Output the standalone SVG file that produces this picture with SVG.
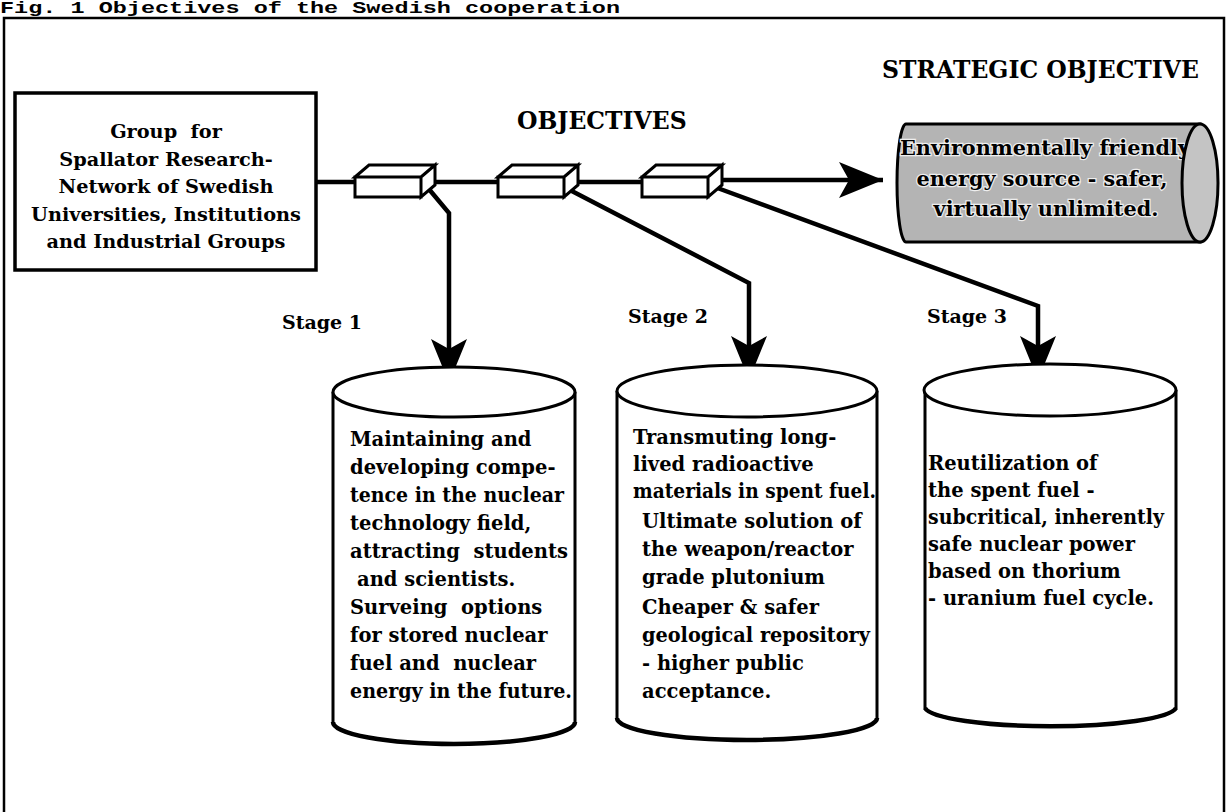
<svg xmlns="http://www.w3.org/2000/svg" width="1228" height="812" viewBox="0 0 1228 812">
<style>
  .t { font-family: "DejaVu Serif", "Liberation Serif", serif; font-weight: bold; fill: #000; }
  .box { font-size: 19.3px; text-anchor: middle; }
  .body { font-size: 19.5px; }
  .stage { font-size: 19px; }
  .head { font-size: 23.5px; }
  .cyl { fill: #fff; stroke: #000; stroke-width: 3; }
  .cylb { fill: none; stroke: #000; stroke-width: 4.5; }
  .conn { fill: none; stroke: #000; stroke-width: 4.5; stroke-linejoin: miter; }
  .obj { fill: #fff; stroke: #000; stroke-width: 3; stroke-linejoin: miter; }
  .halo { paint-order: stroke; stroke: #eee; stroke-width: 2.5px; font-size: 20.8px; text-anchor: middle; }
</style>
<defs>
  <marker id="ah" viewBox="0 0 44 36" refX="44" refY="18" markerWidth="44" markerHeight="36" markerUnits="userSpaceOnUse" orient="auto">
    <path d="M0,0 L44,18 L0,36 L10,18 Z" fill="#000"/>
  </marker>
</defs>
<rect width="1228" height="812" fill="#fff"/>

<g id="title">
  <text x="0" y="13" font-family="Liberation Mono, monospace" font-weight="bold" font-size="17" textLength="620" lengthAdjust="spacingAndGlyphs">Fig. 1 Objectives of the Swedish cooperation</text>
</g>

<g id="frame" fill="none" stroke="#000" stroke-width="2.5">
  <path d="M4,820 V18 H1224 V820"/>
</g>

<g id="connectors">
  <path class="conn" d="M316,182 H712"/>
  <path class="conn" d="M712,180 H883" stroke-width="6.5" marker-end="url(#ah)"/>
  <path class="conn" d="M428,188 L449,213 V383" marker-end="url(#ah)"/>
  <path class="conn" d="M566,188 L749,283 V380" marker-end="url(#ah)"/>
  <path class="conn" d="M712,186 L1038,306 V380" marker-end="url(#ah)"/>
</g>

<g id="source">
  <rect x="15" y="93" width="301" height="177" fill="#fff" stroke="#000" stroke-width="3.5"/>
  <text class="t box" x="166" y="138" xml:space="preserve">Group  for</text>
  <text class="t box" x="166" y="166">Spallator Research-</text>
  <text class="t box" x="166" y="193">Network of Swedish</text>
  <text class="t box" x="166" y="221">Universities, Institutions</text>
  <text class="t box" x="166" y="248">and Industrial Groups</text>
</g>

<g id="objective1">
  <path class="obj" d="M355,177 L369,165 H435 L421,177 Z M355,177 H421 V197 H355 Z M421,177 L435,165 V185 L421,197 Z"/>
</g>
<g id="objective2">
  <path class="obj" d="M498,177 L512,165 H578 L564,177 Z M498,177 H564 V197 H498 Z M564,177 L578,165 V185 L564,197 Z"/>
</g>
<g id="objective3">
  <path class="obj" d="M642,177 L656,165 H722 L708,177 Z M642,177 H708 V197 H642 Z M708,177 L722,165 V185 L708,197 Z"/>
</g>

<g id="label-objectives">
  <text class="t head" x="517" y="129">OBJECTIVES</text>
</g>
<g id="label-strategic">
  <text class="t head" x="882" y="78">STRATEGIC OBJECTIVE</text>
</g>

<g id="strategic">
  <path d="M1200,124 H906 A9,59 0 0 0 906,242 H1200 Z" fill="#b4b4b4" stroke="#000" stroke-width="3"/>
  <text class="t halo" x="1045" y="155">Environmentally friendly</text>
  <text class="t halo" x="1042" y="186">energy source - safer,</text>
  <text class="t halo" x="1046" y="216">virtually unlimited.</text>
  <ellipse cx="1200" cy="183" rx="18" ry="59" fill="#c4c4c4" stroke="#000" stroke-width="3"/>
</g>

<g id="stage1-label"><text class="t stage" x="282" y="329">Stage 1</text></g>
<g id="stage2-label"><text class="t stage" x="628" y="323">Stage 2</text></g>
<g id="stage3-label"><text class="t stage" x="927" y="323">Stage 3</text></g>

<g id="stage1">
  <path class="cyl" d="M333,392 V722 A121,22 0 0 0 575,722 V392"/>
  <path class="cylb" d="M333,722 A121,22 0 0 0 575,722"/>
  <ellipse class="cyl" cx="454" cy="392" rx="121" ry="25"/>
  <text class="t body" x="350" y="446">Maintaining and</text>
  <text class="t body" x="350" y="474">developing compe-</text>
  <text class="t body" x="350" y="502" textLength="214" lengthAdjust="spacingAndGlyphs">tence in the nuclear</text>
  <text class="t body" x="350" y="530">technology field,</text>
  <text class="t body" x="350" y="558" xml:space="preserve" textLength="218" lengthAdjust="spacingAndGlyphs">attracting  students</text>
  <text class="t body" x="357" y="586">and scientists.</text>
  <text class="t body" x="350" y="614" xml:space="preserve">Surveing  options</text>
  <text class="t body" x="350" y="642">for stored nuclear</text>
  <text class="t body" x="350" y="670" xml:space="preserve">fuel and  nuclear</text>
  <text class="t body" x="350" y="698" textLength="222" lengthAdjust="spacingAndGlyphs">energy in the future.</text>
</g>

<g id="stage2">
  <path class="cyl" d="M617,391 V718 A130,22 0 0 0 877,718 V391"/>
  <path class="cylb" d="M617,718 A130,22 0 0 0 877,718"/>
  <ellipse class="cyl" cx="747" cy="391" rx="130" ry="26"/>
  <text class="t body" x="633" y="444">Transmuting long-</text>
  <text class="t body" x="633" y="471">lived radioactive</text>
  <text class="t body" x="633" y="498" textLength="243" lengthAdjust="spacingAndGlyphs">materials in spent fuel.</text>
  <text class="t body" x="642" y="528">Ultimate solution of</text>
  <text class="t body" x="642" y="556">the weapon/reactor</text>
  <text class="t body" x="642" y="584">grade plutonium</text>
  <text class="t body" x="642" y="614">Cheaper &amp; safer</text>
  <text class="t body" x="642" y="642" textLength="228" lengthAdjust="spacingAndGlyphs">geological repository</text>
  <text class="t body" x="642" y="670">- higher public</text>
  <text class="t body" x="642" y="698">acceptance.</text>
</g>

<g id="stage3">
  <path class="cyl" d="M925,390 V708 A126,20 0 0 0 1176,708 V390"/>
  <path class="cylb" d="M925,708 A126,20 0 0 0 1176,708"/>
  <ellipse class="cyl" cx="1050" cy="390" rx="126" ry="26"/>
  <text class="t body" x="928" y="470">Reutilization of</text>
  <text class="t body" x="928" y="497">the spent fuel -</text>
  <text class="t body" x="928" y="524" textLength="236" lengthAdjust="spacingAndGlyphs">subcritical, inherently</text>
  <text class="t body" x="928" y="551">safe nuclear power</text>
  <text class="t body" x="928" y="578">based on thorium</text>
  <text class="t body" x="928" y="605">- uranium fuel cycle.</text>
</g>
</svg>
